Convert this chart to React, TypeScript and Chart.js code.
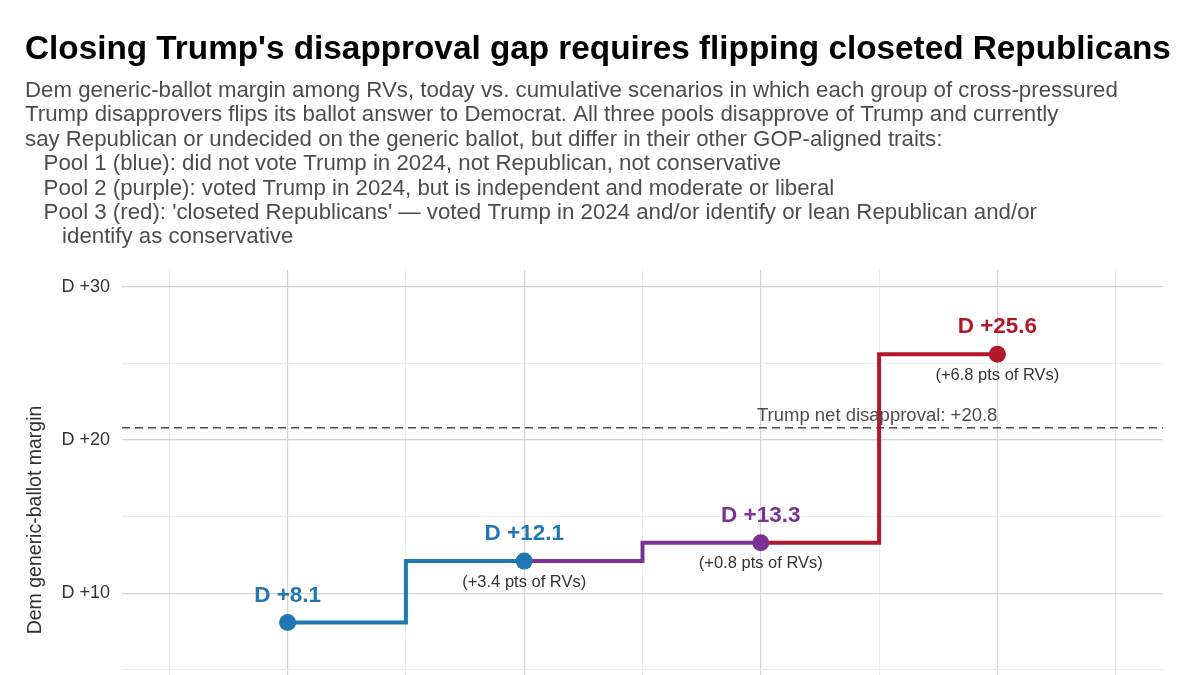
import React, { useEffect, useRef } from "react";
import { Chart, registerables } from "chart.js";

Chart.register(...registerables);

const FONT = '"Liberation Sans", Arial, Helvetica, sans-serif';

// Scenario steps on the x axis (1 = today, then each pool flipped cumulatively)
const steps = [1, 2, 3, 4];
// Dem generic-ballot margin at each step
const margins = [8.1, 12.1, 13.3, 25.6];
// Share of RVs flipped at each step
const rvShares: (number | null)[] = [null, 3.4, 0.8, 6.8];
// Colour of each pool segment and of each point
const poolColors = ["#1f78b4", "#7b3294", "#b2182b"];
const pointColors = ["#1f78b4", "#1f78b4", "#7b3294", "#b2182b"];
const netDisapproval = 20.8;
const yMajorTicks = [10, 20, 30];
const yMinorTicks = [5, 15, 25];
const xMajorTicks = [1, 2, 3, 4];
const xMinorTicks = [0.5, 1.5, 2.5, 3.5, 4.5];

const title = "Closing Trump's disapproval gap requires flipping closeted Republicans";
const subtitleLines = [
  "Dem generic-ballot margin among RVs, today vs. cumulative scenarios in which each group of cross-pressured",
  "Trump disapprovers flips its ballot answer to Democrat. All three pools disapprove of Trump and currently",
  "say Republican or undecided on the generic ballot, but differ in their other GOP-aligned traits:",
  "   Pool 1 (blue): did not vote Trump in 2024, not Republican, not conservative",
  "   Pool 2 (purple): voted Trump in 2024, but is independent and moderate or liberal",
  "   Pool 3 (red): 'closeted Republicans' \u2014 voted Trump in 2024 and/or identify or lean Republican and/or",
  "      identify as conservative",
];
const yAxisTitle = "Dem generic-ballot margin";
const refLabel = "Trump net disapproval: +20.8";

const fmtMargin = (v: number) => `D +${v.toFixed(1)}`;

const textPlugin = {
  id: "chartText",
  beforeDraw(chart: any) {
    const ctx = chart.ctx;
    ctx.save();
    ctx.fillStyle = "#ffffff";
    ctx.fillRect(0, 0, chart.width, chart.height);
    ctx.textAlign = "left";
    ctx.textBaseline = "alphabetic";
    ctx.fillStyle = "#000000";
    ctx.font = `bold 33.3px ${FONT}`;
    ctx.fillText(title, 25, 59);
    ctx.fillStyle = "#4d4d4d";
    ctx.font = `22.25px ${FONT}`;
    subtitleLines.forEach((line, i) => ctx.fillText(line, 25, 97 + i * 24.4));
    // rotated y axis title
    ctx.translate(36, 520);
    ctx.rotate(-Math.PI / 2);
    ctx.textAlign = "center";
    ctx.textBaseline = "middle";
    ctx.fillStyle = "#333333";
    ctx.font = `19.5px ${FONT}`;
    ctx.fillText(yAxisTitle, 0, 0);
    ctx.restore();
  },
  beforeDatasetsDraw(chart: any) {
    const { ctx, chartArea, scales } = chart;
    const y = scales.y.getPixelForValue(netDisapproval);
    ctx.save();
    ctx.strokeStyle = "#4d4d4d";
    ctx.lineWidth = 1.5;
    ctx.setLineDash([8, 5]);
    ctx.beginPath();
    ctx.moveTo(chartArea.left, y);
    ctx.lineTo(chartArea.right, y);
    ctx.stroke();
    ctx.restore();
  },
  afterDatasetsDraw(chart: any) {
    const { ctx, scales } = chart;
    ctx.save();
    const yRef = scales.y.getPixelForValue(netDisapproval);
    ctx.fillStyle = "#4d4d4d";
    ctx.font = `18.5px ${FONT}`;
    ctx.textAlign = "right";
    ctx.textBaseline = "alphabetic";
    ctx.fillText(refLabel, scales.x.getPixelForValue(steps[3]), yRef - 7);

    steps.forEach((s, i) => {
      const px = scales.x.getPixelForValue(s);
      const py = scales.y.getPixelForValue(margins[i]);
      ctx.textAlign = "center";
      ctx.textBaseline = "middle";
      ctx.fillStyle = pointColors[i];
      ctx.font = `bold 22.5px ${FONT}`;
      ctx.fillText(fmtMargin(margins[i]), px, py - 27);
      const share = rvShares[i];
      if (share !== null) {
        ctx.fillStyle = "#333333";
        ctx.font = `16.5px ${FONT}`;
        ctx.fillText(`(+${share.toFixed(1)} pts of RVs)`, px, py + 21);
      }
    });
    ctx.restore();
  },
};

export default function App() {
  const ref = useRef<HTMLCanvasElement>(null);

  useEffect(() => {
    if (!ref.current) return;
    const datasets = poolColors.map((color, k) => ({
      data: [
        { x: steps[k], y: margins[k] },
        { x: steps[k + 1], y: margins[k + 1] },
      ],
      borderColor: color,
      backgroundColor: color,
      borderWidth: 4,
      borderJoinStyle: "miter" as const,
      stepped: "middle" as const,
      pointRadius: k === 0 ? [8.5, 8.5] : [0, 8.5],
      pointBackgroundColor: color,
      pointBorderWidth: 0,
      pointHoverRadius: 0,
    }));

    const chart = new Chart(ref.current, {
      type: "line",
      data: { datasets },
      plugins: [textPlugin],
      options: {
        animation: false,
        responsive: false,
        maintainAspectRatio: false,
        events: [],
        layout: { padding: { top: 270, right: 37, left: 0, bottom: 0 } },
        plugins: {
          legend: { display: false },
          tooltip: { enabled: false },
          title: { display: false },
        },
        scales: {
          x: {
            type: "linear",
            min: 0.3,
            max: 4.7,
            afterBuildTicks: (scale: any) => {
              scale.ticks = [...xMinorTicks, ...xMajorTicks]
                .sort((a, b) => a - b)
                .map((v) => ({ value: v }));
            },
            afterFit: (scale: any) => {
              scale.height = 0;
              scale.paddingLeft = 0;
              scale.paddingRight = 0;
              scale.paddingTop = 0;
              scale.paddingBottom = 0;
            },
            ticks: { display: false },
            border: { display: false },
            grid: {
              drawTicks: false,
              color: (c: any) =>
                xMajorTicks.includes(c.tick?.value) ? "#d4d4d4" : "#ececec",
              lineWidth: (c: any) => (xMajorTicks.includes(c.tick?.value) ? 1.2 : 1),
            },
          },
          y: {
            type: "linear",
            min: 4.7,
            max: 31.1,
            afterBuildTicks: (scale: any) => {
              scale.ticks = [...yMinorTicks, ...yMajorTicks]
                .sort((a, b) => a - b)
                .map((v) => ({ value: v }));
            },
            afterFit: (scale: any) => {
              scale.width = 122;
              scale.paddingTop = 0;
              scale.paddingBottom = 0;
            },
            border: { display: false },
            grid: {
              drawTicks: false,
              color: (c: any) =>
                yMajorTicks.includes(c.tick?.value) ? "#d4d4d4" : "#ececec",
              lineWidth: (c: any) => (yMajorTicks.includes(c.tick?.value) ? 1.2 : 1),
            },
            ticks: {
              padding: 12,
              color: "#333333",
              font: { family: FONT, size: 18 },
              callback: (v: any) => (yMajorTicks.includes(Number(v)) ? `D +${v}` : ""),
            },
          },
        },
      },
    });
    return () => chart.destroy();
  }, []);

  // The canvas is a little taller than the frame so the plot panel runs past the bottom edge.
  return (
    <div style={{ position: "absolute", left: 0, top: 0, width: 1200, height: 675, background: "#fff", overflow: "hidden" }}>
      <canvas ref={ref} width={1200} height={683} style={{ display: "block" }} />
    </div>
  );
}
